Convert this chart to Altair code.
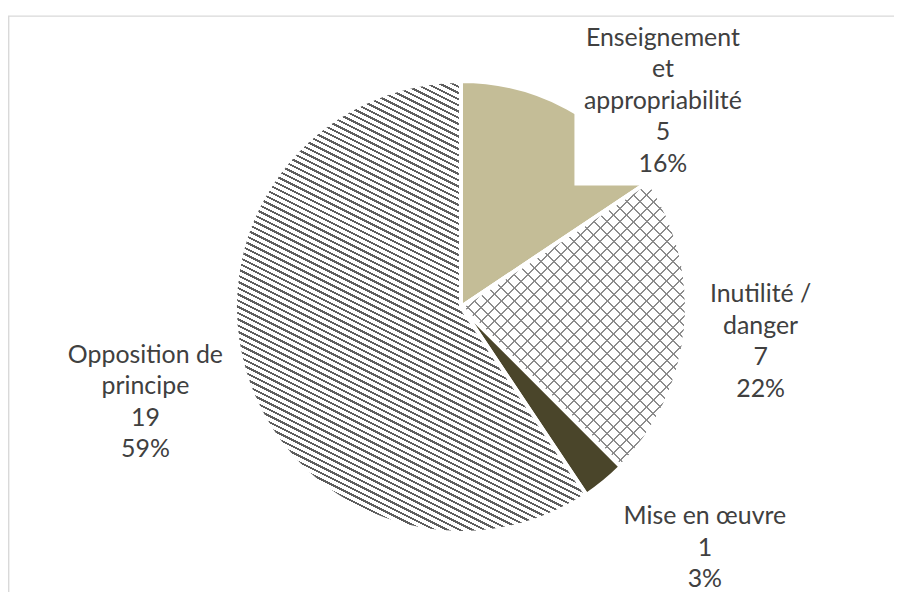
import math
import altair as alt
import pandas as pd

# ---- data ----
categories = ["Enseignement et appropriabilité", "Inutilité / danger", "Mise en œuvre", "Opposition de principe"]
wrapped = ["Enseignement\net\nappropriabilité", "Inutilité /\ndanger", "Mise en œuvre", "Opposition de\nprincipe"]
counts = [5, 7, 1, 19]

total = sum(counts)
labels = [f"{w}\n{c}\n{round(100 * c / total)}%" for w, c in zip(wrapped, counts)]
df = pd.DataFrame({"cat": categories, "count": counts, "idx": list(range(len(counts))), "label": labels})

# ---- layout ----
W, H = 890, 584
CX, CY = 455, 299
R = 227
FONT = "Lato"
FS = 25
LH = 31.6
TXT = "#404040"


def arc_bbox(a0, a1, r):
    pts = [(0.0, 0.0)]
    for a in [a0, a1] + [k * 90 for k in range(0, 5) if a0 < k * 90 < a1]:
        t = math.radians(a)
        pts.append((r * math.sin(t), -r * math.cos(t)))
    xs = [p[0] for p in pts]
    ys = [p[1] for p in pts]
    return max(xs) - min(xs), max(ys) - min(ys)


def stripes(bw, bh, d, period, lw, color, bg):
    dx, dy = d
    n = math.hypot(dx, dy)
    nx, ny = -dy / n, dx / n
    gu, gv = nx * bw, ny * bh
    corners = [(0, 0), (1, 0), (0, 1), (1, 1)]
    proj = [u * gu + v * gv for u, v in corners]
    i = proj.index(min(proj))
    span = max(proj) - min(proj)
    lam = span / (gu * gu + gv * gv)
    u1, v1 = corners[i]
    u2, v2 = u1 + lam * gu, v1 + lam * gv
    stops = []
    k = 0
    while k * period < span:
        o = k * period / span
        o2 = min((k * period + lw) / span, 1)
        o3 = min((k + 1) * period / span, 1)
        stops += [(o, color), (o2, color), (o2, bg), (o3, bg)]
        k += 1
    return alt.Gradient(
        gradient="linear", x1=u1, y1=v1, x2=u2, y2=v2,
        stops=[alt.GradientStop(offset=round(o, 5), color=c) for o, c in stops],
    )


cum = [0]
for c in counts:
    cum.append(cum[-1] + c)
angles = [(cum[i] / total * 360, cum[i + 1] / total * 360) for i in range(len(counts))]

bb_inu = arc_bbox(*angles[1], R)
bb_opp = arc_bbox(*angles[3], R)

fills = [
    ["#C4BD97"],
    [stripes(*bb_inu, (1, 1), 9.4, 1.4, "#8c8c8c", "#ffffff"),
     stripes(*bb_inu, (1, -1), 9.4, 1.4, "#8c8c8c", "rgba(255,255,255,0)")],
    ["#4A452A"],
    [stripes(*bb_opp, (1, 0.5), 5.6, 2.0, "#5e5e5e", "#ffffff")],
]

base = alt.Chart(df).encode(
    theta=alt.Theta("count:Q", stack=True),
    order=alt.Order("idx:Q"),
    x=alt.value(CX),
    y=alt.value(CY),
)

arc_layers = []
for cat, fl in zip(categories, fills):
    for f in fl:
        arc_layers.append(
            base.mark_arc(outerRadius=R, fill=f, stroke="white", strokeWidth=4).encode(
                opacity=alt.condition(alt.datum.cat == cat, alt.value(1), alt.value(0))
            )
        )

frame = alt.Chart(alt.Data(values=[{}])).mark_rect(
    filled=False, stroke="#d9d9d9", strokeWidth=1.4
).encode(x=alt.value(0.7), x2=alt.value(W + 20), y=alt.value(6.8), y2=alt.value(H + 20))

label_bg = alt.Chart(alt.Data(values=[{}])).mark_rect(fill="white").encode(
    x=alt.value(569), x2=alt.value(750), y=alt.value(9), y2=alt.value(177)
)

label_pos = {  # (radius px, angle deg) of the label block centre from the pie centre
    categories[0]: (289.9, 44.4),
    categories[1]: (303.0, 96.6),
    categories[2]: (344.4, 134.65),
    categories[3]: (331.1, 253.2),
}
text_layers = []
for cat, lab in zip(categories, labels):
    r, a = label_pos[cat]
    nlines = lab.count("\n") + 1
    text_layers.append(
        alt.Chart(df).transform_filter(alt.datum.cat == cat).mark_text(
            radius=r, theta=math.radians(a), dy=-(nlines - 1) / 2 * LH,
            lineBreak="\n", lineHeight=LH,
            font=FONT, fontSize=FS, color=TXT, align="center", baseline="middle",
        ).encode(text="label:N", x=alt.value(CX), y=alt.value(CY))
    )

chart = alt.layer(frame, *arc_layers, label_bg, *text_layers).properties(
    width=W, height=H, padding=0, autosize=alt.AutoSizeParams(type="none"),
    background="white",
).configure_view(stroke=None)

chart.save("out.html", embed_options={"renderer": "svg", "actions": False})
